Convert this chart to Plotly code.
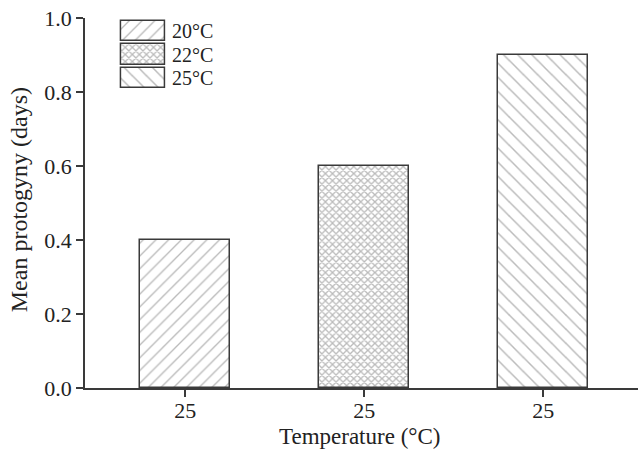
import plotly.graph_objects as go

categories = ["20°C", "22°C", "25°C"]
tick_labels = ["25", "25", "25"]
values = [0.4, 0.6, 0.9]
patterns = ["/", "x", "\\"]
pattern_sizes = [9, 5, 10]
pattern_solidity = [0.15, 0.45, 0.15]

FONT = "Liberation Serif, Times New Roman, serif"
LINE = "#3a3a3a"
TXT = "#222"
PAT = "#767676"

fig = go.Figure()
xs = list(range(len(values)))
for i in xs:
    fig.add_trace(go.Bar(
        x=[xs[i]], y=[values[i]], width=0.5, name=categories[i], showlegend=False,
        marker=dict(color="white", line=dict(color=LINE, width=1.5),
                    pattern=dict(shape=patterns[i], fgcolor=PAT,
                                 size=pattern_sizes[i], solidity=pattern_solidity[i])),
        xaxis="x", yaxis="y"))
    # legend key
    fig.add_trace(go.Bar(
        x=[1], y=[i], orientation="h", width=0.86, showlegend=False, hoverinfo="skip",
        marker=dict(color="white", line=dict(color=LINE, width=1.5),
                    pattern=dict(shape=patterns[i], fgcolor=PAT,
                                 size=pattern_sizes[i], solidity=pattern_solidity[i])),
        xaxis="x2", yaxis="y2"))
    fig.add_annotation(x=0.153, xref="paper", y=i, yref="y2", text=categories[i],
                       showarrow=False, xanchor="left", yanchor="middle",
                       font=dict(family=FONT, size=20, color=TXT))

# axis titles
fig.add_annotation(x=0.497, xref="paper", y=-0.132, yref="paper", text="Temperature (°C)",
                   showarrow=False, xanchor="center", yanchor="middle",
                   font=dict(family=FONT, size=23, color=TXT))
fig.add_annotation(x=-0.119, xref="paper", y=0.508, yref="paper", text="Mean protogyny (days)",
                   textangle=-90, showarrow=False, xanchor="center", yanchor="middle",
                   font=dict(family=FONT, size=24, color=TXT))

fig.update_layout(
    width=640, height=452,
    margin=dict(l=85, r=2, t=18, b=64),
    paper_bgcolor="white", plot_bgcolor="white",
    font=dict(family=FONT, size=22, color=TXT),
    bargap=0,
    xaxis=dict(range=[-0.56, 2.53], tickmode="array", tickvals=xs, ticktext=tick_labels,
               showline=True, linecolor=LINE, linewidth=1.5, ticks="outside",
               ticklen=7, tickcolor=LINE, tickwidth=1.5, showgrid=False, zeroline=False,
               automargin=False, ticklabelstandoff=-5,
               tickfont=dict(family=FONT, size=22, color=TXT)),
    yaxis=dict(range=[0, 1.0], tickvals=[0, 0.2, 0.4, 0.6, 0.8, 1.0],
               ticktext=["0.0", "0.2", "0.4", "0.6", "0.8", "1.0"],
               showline=True, linecolor=LINE, linewidth=1.5, ticks="outside",
               ticklen=7, tickcolor=LINE, tickwidth=1.5, showgrid=False, zeroline=False,
               automargin=False,
               tickfont=dict(family=FONT, size=22, color=TXT)),
    xaxis2=dict(domain=[0.06, 0.15], range=[-0.06, 1.06], visible=False, anchor="y2"),
    yaxis2=dict(domain=[0.805, 0.997], range=[2.5, -0.5], visible=False, anchor="x2"),
)

fig.write_html("out.html", config={"displayModeBar": False},
               post_script="document.body.style.margin='0';document.body.style.padding='0';")
